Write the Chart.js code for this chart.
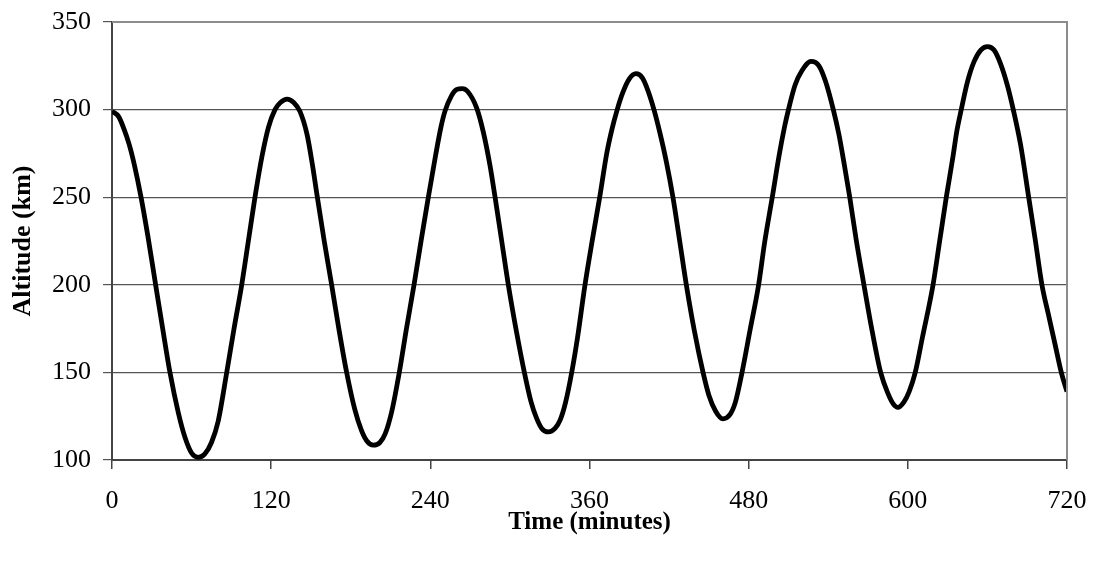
<!DOCTYPE html>
<html>
<head>
<meta charset="utf-8">
<script src="https://cdn.jsdelivr.net/npm/chart.js@4/dist/chart.umd.min.js"></script>
<style>
html,body{margin:0;padding:0;background:#fff;}
#wrap{width:1098px;height:565px;}
</style>
</head>
<body>
<div id="wrap"><canvas id="c" width="1098" height="565"></canvas></div>
<script>
// Time in minutes
const times = [
  0, 5, 9, 13, 17, 21.9, 27, 32.9, 38, 43.7, 50, 55, 60, 65,
  70, 75, 80, 86.5, 92, 97.8, 103, 107.8, 113, 118, 122.9, 127, 132,
  137, 141.7, 147, 151, 154.8, 160, 165.6, 171, 176.9, 183, 188, 192, 197,
  202, 206, 211, 216.6, 222, 227.7, 233, 238.5, 244, 248, 251, 256, 260, 264,
  268, 274.9, 280, 285, 288.8, 294, 298.8, 305, 310.9, 316, 320, 324, 329,
  334, 338, 342, 346.6, 351, 356.6, 362, 367.7, 373, 377, 380.9, 385, 390, 395,
  400, 404, 408.6, 413, 418, 422.9, 428, 433, 439, 445.6, 450, 455, 460.5,
  466, 470, 475, 481, 487.5, 492, 497.8, 503, 507, 510, 515, 520, 527,
  533, 538, 543.8, 548, 552, 556.2, 561, 566.9, 573, 579.5, 585, 589, 592.5,
  597, 601, 605.6, 611, 619, 624, 629, 634, 637, 640, 645, 650, 655, 660,
  665, 670, 675, 679.5, 685, 691.1, 696, 701.1, 706, 711, 715.7, 720
];
// Altitude in km
const altitude = [
  299, 296, 289, 280, 268, 250, 228, 200, 176, 150, 127, 113, 104, 101.5,
  103.5, 110, 122, 150, 175, 200, 226, 250, 273, 290, 300, 304, 306,
  304, 299, 286, 269, 250, 225, 200, 175, 150, 129, 117, 111, 108.5,
  110, 115, 128, 150, 175, 200, 225, 250, 274, 290, 299, 308, 311.5, 312,
  310.5, 301, 287, 268, 250, 224, 200, 173, 150, 133, 124, 118, 116,
  118, 123, 133, 150, 170, 200, 225, 250, 275, 289, 300, 309.5, 317.5, 320.5,
  318, 311, 300, 287, 270, 250, 225, 200, 174, 150, 137, 128, 123.5,
  126, 133, 150, 174, 200, 224, 250, 274, 290, 300, 314, 322, 327.5,
  325, 316, 300, 286, 269, 250, 226, 200, 174, 150, 138, 132, 130,
  133, 139, 150, 170, 200, 225, 250, 273, 288, 299, 316, 327.5, 334, 336,
  334, 326, 314, 300, 280, 250, 226, 200, 183, 166, 150, 139
];
const xTicks = [0, 120, 240, 360, 480, 600, 720];
const yTicks = [100, 150, 200, 250, 300, 350];
const xTitle = 'Time (minutes)';
const yTitle = 'Altitude (km)';

const points = times.map((t, i) => ({x: t, y: altitude[i]}));

const frame = {
  id: 'frame',
  afterDraw(chart) {
    const {ctx, chartArea: a} = chart;
    ctx.save();
    ctx.strokeStyle = '#8c8c8c';
    ctx.lineWidth = 2;
    ctx.beginPath();
    ctx.moveTo(a.left, a.top);
    ctx.lineTo(a.right, a.top);
    ctx.lineTo(a.right, a.bottom);
    ctx.stroke();
    ctx.restore();
  }
};

new Chart(document.getElementById('c'), {
  type: 'line',
  data: {
    datasets: [{
      data: points,
      borderColor: '#000',
      borderWidth: 4.8,
      pointRadius: 0,
      fill: false,
      cubicInterpolationMode: 'monotone'
    }]
  },
  options: {
    responsive: false,
    animation: false,
    devicePixelRatio: 1,
    layout: {padding: {left: 8, right: 31, top: 22, bottom: 27}},
    plugins: {legend: {display: false}, tooltip: {enabled: false}},
    scales: {
      x: {
        type: 'linear',
        min: xTicks[0],
        max: xTicks[xTicks.length - 1],
        afterBuildTicks: s => { s.ticks = xTicks.map(v => ({value: v})); },
        afterFit: s => { s.height = 78; s.paddingLeft = 0; s.paddingRight = 0; },
        grid: {drawOnChartArea: false, drawTicks: true, tickLength: 9, color: '#444', lineWidth: 1.5},
        border: {display: true, color: '#444', width: 2},
        ticks: {color: '#000', font: {family: 'Liberation Serif', size: 26}, padding: 17, maxRotation: 0},
        title: {display: true, text: xTitle, color: '#000', font: {family: 'Liberation Serif', size: 25, weight: 'bold'}, padding: {top: 0, bottom: 0}}
      },
      y: {
        type: 'linear',
        min: yTicks[0],
        max: yTicks[yTicks.length - 1],
        afterBuildTicks: s => { s.ticks = yTicks.map(v => ({value: v})); },
        afterFit: s => { s.width = 104; s.paddingTop = 0; s.paddingBottom = 0; },
        grid: {drawOnChartArea: true, drawTicks: true, tickLength: 9, color: '#555', lineWidth: 1.2},
        border: {display: true, color: '#444', width: 2},
        ticks: {color: '#000', font: {family: 'Liberation Serif', size: 26}, padding: 12},
        title: {display: true, text: yTitle, color: '#000', font: {family: 'Liberation Serif', size: 26, weight: 'bold'}, padding: {top: 0, bottom: 0}}
      }
    }
  },
  plugins: [frame]
});
</script>
</body>
</html>
